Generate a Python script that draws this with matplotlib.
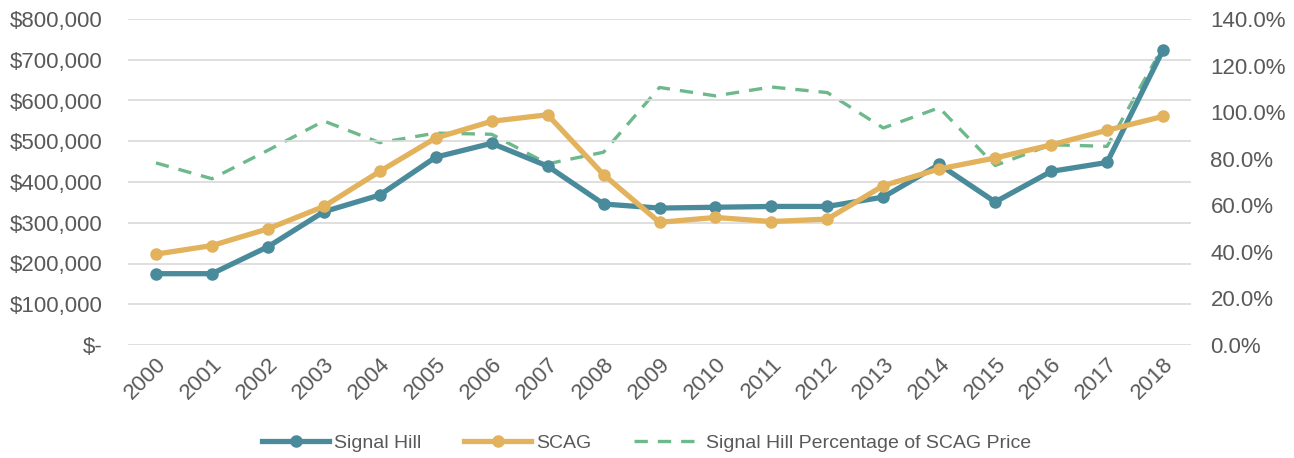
import matplotlib
matplotlib.use('Agg')
import matplotlib.pyplot as plt
from matplotlib.ticker import FuncFormatter, MultipleLocator

# Median home price data
years = [str(y) for y in range(2000, 2019)]
signal_hill = [175000, 175000, 241000, 327000, 368000, 461000, 495000, 439000, 346000,
               336000, 338000, 340000, 340000, 363000, 443000, 351000, 426000, 448000, 724000]
scag = [223000, 244000, 285000, 340000, 426000, 508000, 549000, 565000, 418000,
        301000, 313000, 303000, 309000, 391000, 432000, 459000, 491000, 527000, 561000]
pct_of_scag = [78.2, 71.4, 83.6, 96.2, 86.9, 91.0, 90.5, 77.8, 82.8,
               110.6, 107.0, 110.8, 108.4, 93.2, 101.9, 77.1, 86.0, 85.3, 128.1]

teal = '#4A8B9B'
gold = '#E2B25C'
green = '#6DB98C'
text_gray = '#595959'

plt.rcParams['font.family'] = ['Liberation Sans', 'DejaVu Sans']

fig = plt.figure(figsize=(12.94, 4.58), dpi=100)
ax = fig.add_axes([128 / 1294, 1 - 345 / 458, (1191 - 128) / 1294, (345 - 19) / 458])
ax2 = ax.twinx()

x = list(range(len(years)))
ax.plot(x, signal_hill, color=teal, lw=3.8, marker='o', ms=8, label='Signal Hill', zorder=3)
ax.plot(x, scag, color=gold, lw=3.8, marker='o', ms=8, label='SCAG', zorder=3)
ax2.plot(x, pct_of_scag, color=green, lw=2.4, ls=(0, (4, 3)),
         label='Signal Hill Percentage of SCAG Price', zorder=2)

ax.set_xlim(-0.5, len(years) - 0.5)
ax.set_ylim(0, 800000)
ax2.set_ylim(0, 140)
ax.yaxis.set_major_locator(MultipleLocator(100000))
ax2.yaxis.set_major_locator(MultipleLocator(20))
ax.yaxis.set_major_formatter(FuncFormatter(lambda v, p: '$-' if v == 0 else f'${v:,.0f}'))
ax2.yaxis.set_major_formatter(FuncFormatter(lambda v, p: f'{v:.1f}%'))

ax.set_xticks(x)
ax.set_xticklabels(years, rotation=45, ha='right', rotation_mode='anchor')
ax.grid(axis='y', color='#D9D9D9', lw=1.2)
ax.set_axisbelow(True)

for a in (ax, ax2):
    for s in a.spines.values():
        s.set_visible(False)
    a.tick_params(length=0, labelsize=16, colors=text_gray)
ax.tick_params(axis='y', pad=18)
ax.tick_params(axis='x', pad=6)
ax2.tick_params(axis='y', pad=14)

# put lines from the main axes above the dashed line
ax.set_zorder(ax2.get_zorder() + 1)
ax.patch.set_visible(False)

h1, l1 = ax.get_legend_handles_labels()
h2, l2 = ax2.get_legend_handles_labels()
fig.legend(h1 + h2, l1 + l2, loc='center', bbox_to_anchor=(0.5, 1 - 443 / 458), ncol=3,
           frameon=False, fontsize=14, handlelength=3.4, columnspacing=2.2,
           handletextpad=0.3, labelcolor=text_gray)

fig.savefig('out.png', dpi=100)
